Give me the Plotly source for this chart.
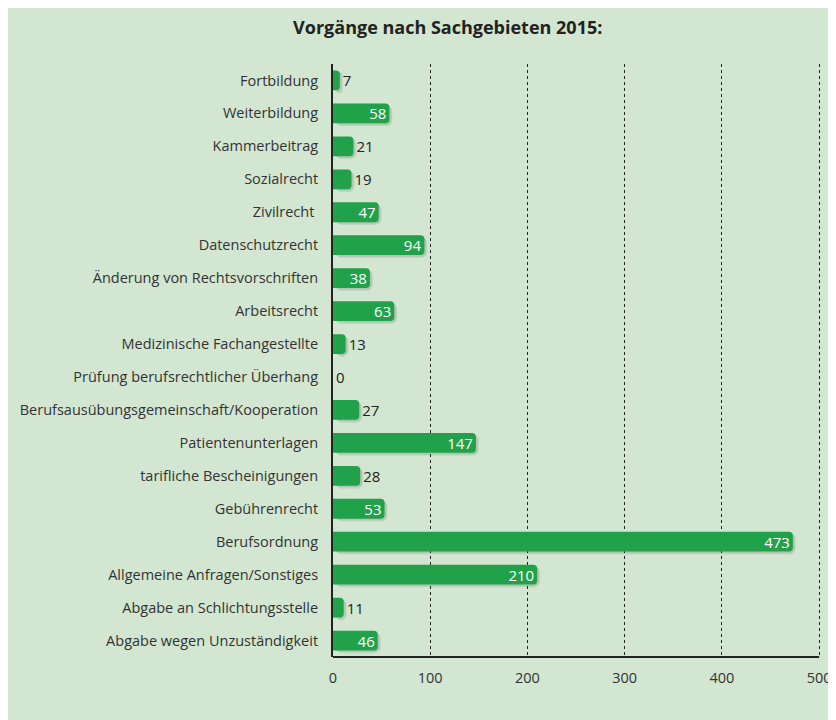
import plotly.graph_objects as go

# Vorgänge nach Sachgebieten 2015 (top to bottom)
categories = [
    "Fortbildung",
    "Weiterbildung",
    "Kammerbeitrag",
    "Sozialrecht",
    "Zivilrecht\u00a0",
    "Datenschutzrecht",
    "Änderung von Rechtsvorschriften",
    "Arbeitsrecht",
    "Medizinische Fachangestellte",
    "Prüfung berufsrechtlicher Überhang",
    "Berufsausübungsgemeinschaft/Kooperation",
    "Patientenunterlagen",
    "tarifliche Bescheinigungen",
    "Gebührenrecht",
    "Berufsordnung",
    "Allgemeine Anfragen/Sonstiges",
    "Abgabe an Schlichtungsstelle",
    "Abgabe wegen Unzuständigkeit",
]
values = [7, 58, 21, 19, 47, 94, 38, 63, 13, 0, 27, 147, 28, 53, 473, 210, 11, 46]
x_ticks = [0, 100, 200, 300, 400, 500]

BG = "#d2e6d1"
BAR = "#21a14a"
FONT = "Open Sans, Noto Sans, sans-serif"

# short bars get their label outside
positions = ["inside" if v >= 30 else "outside" for v in values]

fig = go.Figure()

# soft shadow under the bars
fig.add_trace(go.Bar(
    y=categories, x=values, orientation="h",
    base=3, width=0.64, offset=-0.25,
    marker=dict(color="rgba(60,80,60,0.10)", cornerradius=6, line_width=0),
    hoverinfo="skip", showlegend=False,
))
fig.add_trace(go.Bar(
    y=categories, x=values, orientation="h",
    base=2, width=0.6, offset=-0.25,
    marker=dict(color="rgba(60,80,60,0.12)", cornerradius=5, line_width=0),
    hoverinfo="skip", showlegend=False,
))

# the bars themselves
fig.add_trace(go.Bar(
    y=categories, x=values, orientation="h",
    width=0.6, offset=-0.3,
    marker=dict(color=BAR, cornerradius=4, line_width=0),
    showlegend=False,
))

# invisible, taller bars that only carry the value labels (so plotly does not shrink them)
fig.add_trace(go.Bar(
    y=categories, x=values, orientation="h",
    width=0.9, offset=-0.45,
    marker=dict(color="rgba(0,0,0,0)", line_width=0),
    text=[str(v) for v in values],
    textposition=positions,
    textangle=0,
    insidetextanchor="end",
    insidetextfont=dict(color="white", size=15, family=FONT),
    outsidetextfont=dict(color="#222222", size=15, family=FONT),
    constraintext="none",
    cliponaxis=False,
    hoverinfo="skip",
    showlegend=False,
))

fig.update_layout(
    width=836, height=720,
    paper_bgcolor=BG, plot_bgcolor=BG,
    barmode="overlay",
    margin=dict(l=325, r=14, t=56, b=71),
    font=dict(family=FONT, size=14.5, color="#333333"),
    title=dict(
        text="<b>Vorgänge nach Sachgebieten 2015:</b>",
        x=0.526, xanchor="center", xref="container",
        y=0.972, yanchor="middle",
        font=dict(size=18, color="#222222", family=FONT),
    ),
    xaxis=dict(
        range=[0, 505], tickvals=x_ticks,
        showgrid=True, gridcolor="#222222", griddash="dot", gridwidth=1,
        showline=False,
        zeroline=False, ticks="", ticklabelstandoff=10,
        ticklabeloverflow="allow",
        tickfont=dict(size=14.5, color="#333333"),
    ),
    yaxis=dict(
        autorange="reversed",
        showgrid=False, showline=True, linecolor="#222222", linewidth=2,
        ticks="", ticklabelstandoff=10,
        tickfont=dict(size=14.5, color="#333333"),
    ),
    # bottom axis line ends at 500 like the original
    shapes=[dict(
        type="line", xref="x", yref="paper",
        x0=0, x1=500, y0=0, y1=0,
        line=dict(color="#222222", width=2),
    )],
)

fig.write_html("out.html")
